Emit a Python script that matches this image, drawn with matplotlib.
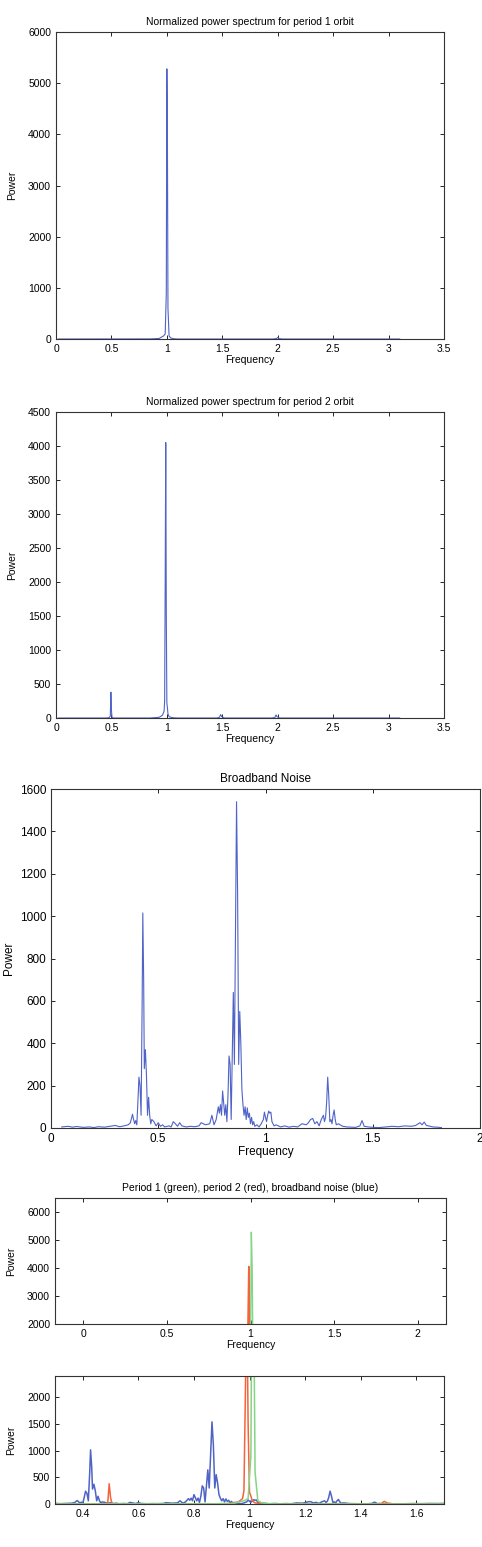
import matplotlib
matplotlib.use("Agg")
import matplotlib.pyplot as plt

plt.rcParams['font.family'] = ['Liberation Sans', 'DejaVu Sans']

# period 1 orbit spectrum
p1_freq = [0.02, 0.85, 0.93, 0.97, 0.985, 0.995, 1.0, 1.005, 1.01, 1.02, 1.035, 1.06, 1.1,
           1.96, 1.99, 2.0, 2.01, 2.04, 3.1]
p1_power = [0, 2, 10, 60, 100, 900, 5280, 4000, 600, 60, 20, 5, 0,
            0, 10, 30, 10, 0, 0]

# period 2 orbit spectrum
p2_freq = [0.02, 0.45, 0.48, 0.49, 0.495, 0.5, 0.505, 0.52, 0.85, 0.93, 0.96, 0.975, 0.98,
           0.985, 0.99, 0.995, 1.0, 1.005, 1.01, 1.02, 1.04, 1.07, 1.1, 1.45, 1.475, 1.485,
           1.495, 1.52, 1.95, 1.975, 1.985, 1.995, 2.02, 3.1]
p2_power = [0, 0, 5, 30, 380, 120, 10, 0, 0, 10, 40, 100, 250,
            2000, 4050, 1500, 220, 150, 60, 20, 8, 2, 0, 0, 10, 50,
            20, 0, 0, 10, 45, 15, 0, 0]

# broadband noise spectrum
noise_freq = [0.05, 0.08, 0.10, 0.12, 0.15, 0.18, 0.20, 0.22, 0.25, 0.28,
              0.30, 0.32, 0.34, 0.36, 0.37, 0.38, 0.385, 0.39, 0.395, 0.40,
              0.405, 0.41, 0.415, 0.42, 0.425, 0.428, 0.432, 0.435, 0.44, 0.445,
              0.45, 0.455, 0.46, 0.465, 0.47, 0.48, 0.49, 0.50, 0.51, 0.52,
              0.53, 0.55, 0.56, 0.57, 0.58, 0.59, 0.60, 0.61, 0.63, 0.65,
              0.67, 0.69, 0.70, 0.72, 0.74, 0.75, 0.76, 0.77, 0.78, 0.785,
              0.79, 0.795, 0.80, 0.805, 0.81, 0.815, 0.82, 0.825, 0.83, 0.835,
              0.84, 0.845, 0.85, 0.855, 0.86, 0.865, 0.87, 0.875, 0.88, 0.885,
              0.89, 0.895, 0.90, 0.905, 0.91, 0.915, 0.92, 0.925, 0.93, 0.935,
              0.94, 0.945, 0.95, 0.96, 0.97, 0.98, 0.99, 0.995, 1.0, 1.005,
              1.01, 1.015, 1.02, 1.025, 1.03, 1.04, 1.05, 1.07, 1.09, 1.11,
              1.13, 1.15, 1.17, 1.19, 1.20, 1.21, 1.22, 1.23, 1.24, 1.25,
              1.26, 1.27, 1.275, 1.28, 1.285, 1.29, 1.295, 1.30, 1.305, 1.31,
              1.315, 1.32, 1.325, 1.33, 1.34, 1.36, 1.38, 1.40, 1.42, 1.44,
              1.45, 1.46, 1.48, 1.50, 1.53, 1.56, 1.59, 1.62, 1.65, 1.68,
              1.70, 1.72, 1.73, 1.74, 1.75, 1.76, 1.78, 1.80, 1.82]
noise_power = [5, 8, 4, 7, 3, 5, 2, 6, 4, 9,
               12, 6, 10, 15, 25, 65, 40, 20, 35, 15,
               120, 240, 200, 60, 600, 1015, 700, 280, 370, 250,
               60, 145, 60, 20, 40, 30, 10, 25, 8, 15,
               5, 10, 5, 30, 20, 8, 25, 10, 5, 8,
               6, 10, 25, 15, 20, 60, 15, 40, 100, 70,
               110, 60, 175, 120, 60, 110, 30, 150, 340, 300,
               40, 350, 640, 300, 900, 1540, 1100, 300, 550, 400,
               180, 110, 60, 100, 40, 95, 50, 70, 20, 50,
               15, 30, 8, 15, 5, 20, 40, 75, 50, 30,
               60, 80, 70, 75, 30, 10, 15, 5, 10, 4,
               8, 5, 20, 15, 25, 40, 45, 20, 30, 10,
               40, 60, 30, 50, 120, 240, 150, 30, 40, 20,
               60, 85, 40, 15, 20, 8, 5, 4, 3, 10,
               35, 8, 5, 3, 2, 5, 8, 6, 10, 8,
               12, 25, 15, 28, 12, 10, 5, 4, 2]

blue = '#5063c6'
red = '#f2643c'
green = '#86d486'
fs = 7.5

W, H = 482, 1547
fig = plt.figure(figsize=(W / 100, H / 100), dpi=100)


def make_axes(l, r, t, b):
    return fig.add_axes([l / W, 1 - b / H, (r - l) / W, (b - t) / H])


def style(ax, size):
    ax.tick_params(direction='in', top=True, right=True, labelsize=size, length=3, width=0.6)
    for s in ax.spines.values():
        s.set_linewidth(0.8)
        s.set_color('#333333')


ax1 = make_axes(56, 444, 32, 339)
ax1.plot(p1_freq, p1_power, color=blue, lw=0.8)
ax1.set_xlim(0, 3.5)
ax1.set_ylim(0, 6000)
ax1.set_xticks([0, 0.5, 1, 1.5, 2, 2.5, 3, 3.5])
ax1.set_xticklabels(['0', '0.5', '1', '1.5', '2', '2.5', '3', '3.5'])
ax1.set_title('Normalized power spectrum for period 1 orbit', fontsize=fs, pad=5)
ax1.set_xlabel('Frequency', fontsize=fs, labelpad=1)
ax1.set_ylabel('Power', fontsize=fs, labelpad=8)
style(ax1, fs)

ax2 = make_axes(56, 444, 412, 718)
ax2.plot(p2_freq, p2_power, color=blue, lw=0.8)
ax2.set_xlim(0, 3.5)
ax2.set_ylim(0, 4500)
ax2.set_xticks([0, 0.5, 1, 1.5, 2, 2.5, 3, 3.5])
ax2.set_xticklabels(['0', '0.5', '1', '1.5', '2', '2.5', '3', '3.5'])
ax2.set_yticks(range(0, 4501, 500))
ax2.set_title('Normalized power spectrum for period 2 orbit', fontsize=fs, pad=5)
ax2.set_xlabel('Frequency', fontsize=fs, labelpad=1)
ax2.set_ylabel('Power', fontsize=fs, labelpad=8)
style(ax2, fs)

ax3 = make_axes(51, 480, 789, 1128)
ax3.plot(noise_freq, noise_power, color=blue, lw=0.8)
ax3.set_xlim(0, 2)
ax3.set_ylim(0, 1600)
ax3.set_xticks([0, 0.5, 1, 1.5, 2])
ax3.set_xticklabels(['0', '0.5', '1', '1.5', '2'])
ax3.set_yticks(range(0, 1601, 200))
ax3.set_title('Broadband Noise', fontsize=8.5, pad=5)
ax3.set_xlabel('Frequency', fontsize=8.5, labelpad=1)
ax3.set_ylabel('Power', fontsize=8.5, labelpad=3)
style(ax3, 8.5)

ax4 = make_axes(55, 446, 1198, 1324)
ax4.plot(noise_freq, noise_power, color=blue, lw=0.8)
ax4.plot(p2_freq, p2_power, color=red, lw=1.2)
ax4.plot([f + 0.005 for f in p1_freq], p1_power, color=green, lw=1.0)
ax4.set_xlim(-0.17, 2.17)
ax4.set_ylim(2000, 6500)
ax4.set_xticks([0, 0.5, 1, 1.5, 2])
ax4.set_xticklabels(['0', '0.5', '1', '1.5', '2'])
ax4.set_yticks([2000, 3000, 4000, 5000, 6000])
ax4.set_title('Period 1 (green), period 2 (red), broadband noise (blue)', fontsize=fs, pad=5)
ax4.set_xlabel('Frequency', fontsize=fs, labelpad=1)
ax4.set_ylabel('Power', fontsize=fs, labelpad=8)
style(ax4, fs)

ax5 = make_axes(55, 444, 1376, 1504)
ax5.plot(noise_freq, noise_power, color=blue, lw=1.1)
ax5.plot(p2_freq, p2_power, color=red, lw=1.1)
ax5.plot([f + 0.01 for f in p1_freq], p1_power, color=green, lw=1.1)
ax5.set_xlim(0.3, 1.7)
ax5.set_ylim(0, 2400)
ax5.set_xticks([0.4, 0.6, 0.8, 1, 1.2, 1.4, 1.6])
ax5.set_xticklabels(['0.4', '0.6', '0.8', '1', '1.2', '1.4', '1.6'])
ax5.set_yticks([0, 500, 1000, 1500, 2000])
ax5.set_xlabel('Frequency', fontsize=fs, labelpad=1)
ax5.set_ylabel('Power', fontsize=fs, labelpad=8)
style(ax5, fs)

plt.savefig('out.png', dpi=100)
